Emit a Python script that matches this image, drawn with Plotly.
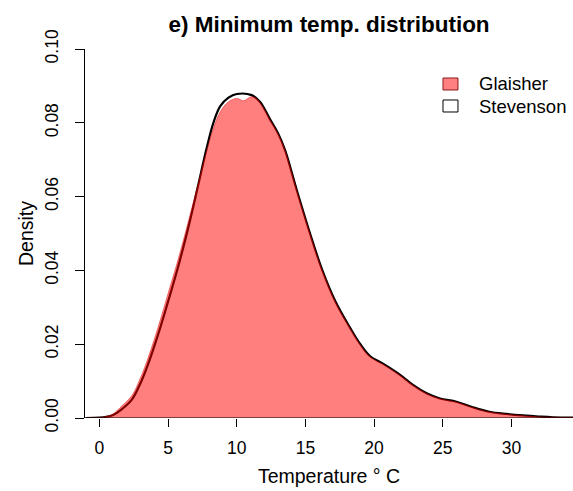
import plotly.graph_objects as go

# ---- data ----
temp_stevenson = [-1.0, 0.0, 0.5, 1.0, 1.5, 2.35, 3.0, 3.44, 4.29, 5.02, 5.75, 6.5, 7.2, 7.8, 8.3, 8.8,
                  9.4, 10.0, 11.09, 11.69, 12.42, 13.03, 13.52, 14.37, 15.34, 16.19, 17.2, 18.25, 19.0,
                  19.7, 20.8, 21.9, 22.86, 23.83, 24.8, 26.0, 27.2, 28.4, 29.66, 30.85, 32.0, 33.0, 35.0]
dens_stevenson = [0.0, 0.0001, 0.0003, 0.0008, 0.0020, 0.0049, 0.0095, 0.0135, 0.0228, 0.0318, 0.0412,
                  0.0520, 0.0632, 0.0730, 0.0800, 0.0845, 0.0868, 0.0878, 0.0875, 0.0857, 0.0810,
                  0.0770, 0.0726, 0.0618, 0.0500, 0.0405, 0.0315, 0.0245, 0.0200, 0.0168, 0.0144,
                  0.0117, 0.0089, 0.0067, 0.0053, 0.0044, 0.0029, 0.0017, 0.0011, 0.0007, 0.0004,
                  0.0002, 0.0001]

temp_glaisher = [-1.0, 0.0, 0.5, 1.0, 1.5, 2.35, 3.0, 3.44, 4.29, 5.02, 5.75, 6.5, 7.2, 7.8, 8.3, 8.8,
                 9.4, 10.0, 10.5, 11.0, 11.3, 11.69, 12.42, 13.03, 13.52, 14.37, 15.34, 16.19, 17.2,
                 18.25, 19.0, 19.7, 20.8, 21.9, 22.86, 23.83, 24.8, 26.0, 27.2, 28.4, 29.66, 30.85,
                 32.0, 33.0, 35.0]
dens_glaisher = [0.0, 0.0001, 0.0004, 0.0011, 0.0028, 0.0060, 0.0110, 0.0152, 0.0248, 0.0340, 0.0432,
                 0.0536, 0.0636, 0.0722, 0.0785, 0.0830, 0.0857, 0.0866, 0.0860, 0.0870, 0.0869,
                 0.0855, 0.0808, 0.0768, 0.0724, 0.0616, 0.0498, 0.0403, 0.0313, 0.0243, 0.0198,
                 0.0166, 0.0142, 0.0115, 0.0088, 0.0066, 0.0052, 0.0043, 0.0028, 0.0016, 0.0010,
                 0.0006, 0.0003, 0.0002, 0.0001]

x_ticks = [0, 5, 10, 15, 20, 25, 30]
y_ticks = [0.00, 0.02, 0.04, 0.06, 0.08, 0.10]
y_tick_labels = ["0.00", "0.02", "0.04", "0.06", "0.08", "0.10"]
series_names = ["Glaisher", "Stevenson"]

FONT = "Liberation Sans, Arial, Helvetica, sans-serif"

fig = go.Figure()
fig.add_trace(go.Scatter(
    x=temp_stevenson, y=dens_stevenson, mode="lines", name=series_names[1],
    line=dict(color="black", width=2.2, shape="spline", smoothing=1.0),
    hoverinfo="skip"))
fig.add_trace(go.Scatter(
    x=temp_glaisher, y=dens_glaisher, mode="lines", name=series_names[0],
    fill="tozeroy", fillcolor="rgba(255,0,0,0.5)",
    line=dict(color="rgba(220,0,0,0.45)", width=1, shape="spline", smoothing=1.0),
    hoverinfo="skip"))

# baseline at zero
fig.add_shape(type="line", xref="paper", yref="y", x0=0, x1=1, y0=0, y1=0,
              line=dict(color="black", width=1.2))

# legend (drawn manually, R style)
legend_boxes = [(0.9214, 0.8889, "rgba(255,128,128,1)", "#8B1A1A"),
                (0.8618, 0.8293, "white", "black")]
for (ytop, ybot, fc, lc), name, yc in zip(legend_boxes, series_names, [0.9070, 0.8436]):
    fig.add_shape(type="rect", xref="paper", yref="paper", x0=0.7336, x1=0.7643,
                  y0=ybot, y1=ytop, fillcolor=fc, line=dict(color=lc, width=1))
    fig.add_annotation(xref="paper", yref="paper", x=0.8027, y=yc, text=name,
                       showarrow=False, xanchor="left", yanchor="middle",
                       font=dict(family=FONT, size=18.5, color="black"))

fig.update_layout(
    width=573, height=491,
    margin=dict(l=85, r=0, t=49, b=73),
    paper_bgcolor="white", plot_bgcolor="white",
    showlegend=False,
    font=dict(family=FONT, size=17, color="black"),
    title=dict(text="<b>e) Minimum temp. distribution</b>", x=0.5, xref="paper",
               y=1 - 24 / 491, yref="container", yanchor="middle", xanchor="center",
               font=dict(family=FONT, size=22.5, color="black")),
    xaxis=dict(range=[-1.049, 34.486], tickvals=x_ticks, ticks="outside", ticklen=8,
               tickcolor="black", tickwidth=1, showline=False, showgrid=False,
               zeroline=False, tickfont=dict(size=17.5), ticklabelstandoff=6,
               title=dict(text="Temperature ° C", font=dict(size=19.5), standoff=12)),
    yaxis=dict(range=[0, 0.1], tickvals=y_ticks, ticktext=y_tick_labels, ticks="outside",
               ticklen=9, tickcolor="black", tickwidth=1, showline=True, linecolor="black",
               linewidth=1, showgrid=False, zeroline=False, tickangle=-90,
               tickfont=dict(size=17.5), ticklabelstandoff=10,
               title=dict(text="Density", font=dict(size=19.5), standoff=3)),
)

fig.write_html("out.html")
